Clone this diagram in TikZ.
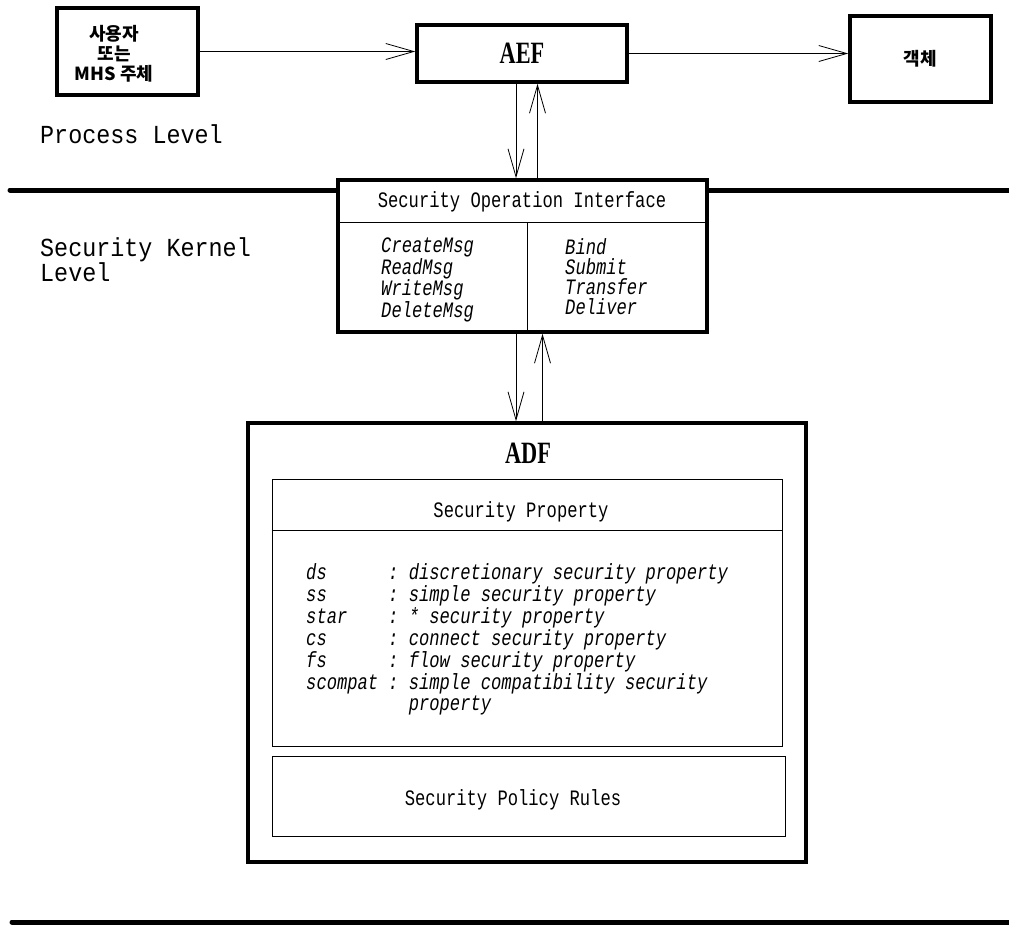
\documentclass[tikz,border=0pt]{standalone}
\usepackage{fontspec}
\setmainfont{Liberation Serif}
\newfontfamily\krfont{Noto Sans CJK KR}
\newfontfamily\titlefont[FakeStretch=0.72]{Liberation Serif}
\newfontfamily\levelfont[FakeStretch=0.9]{Liberation Mono}
\newfontfamily\boxfont[FakeStretch=0.78]{Liberation Mono}
\usetikzlibrary{arrows.meta}
\begin{document}
\begin{tikzpicture}[x=1pt,y=-1pt,
  every node/.style={inner sep=0pt},
  thickbox/.style={draw,line width=3.5pt},
  thinbox/.style={draw,line width=0.8pt},
  sepline/.style={line width=5pt,line cap=round},
  conn/.style={line width=0.8pt,-{Straight Barb[length=28pt,width=16pt,line width=0.8pt]}},
  kr/.style={font=\krfont\bfseries\fontsize{18}{20}\selectfont,align=center},
  big/.style={font=\titlefont\bfseries\fontsize{31}{32}\selectfont},
  lvl/.style={font=\levelfont\fontsize{26}{21}\selectfont,align=left},
  plain/.style={font=\boxfont\fontsize{22}{20}\selectfont},
  slant/.style={font=\boxfont\itshape\fontsize{22}{20}\selectfont,align=left}]
\useasboundingbox (0,0) rectangle (1009,938);
% process level
\node[thickbox,minimum width=141pt,minimum height=87pt] (user) at (127.5,51.5) {};
\node[kr] (usertxt) at (114,54) {사용자\\또는\\MHS 주체};
\node[thickbox,minimum width=210pt,minimum height=57pt,big] (aef) at (522,53.5) {AEF};
\node[thickbox,minimum width=141pt,minimum height=86pt,kr] (obj) at (920.5,59) {객체};
\node[lvl,anchor=base west] (plevel) at (40,143) {Process Level};
\draw[conn] (user.east) -- (user.east -| aef.west);
\draw[conn] (aef.east) -- (aef.east -| obj.west);
% security kernel level
\node[thickbox,minimum width=369pt,minimum height=152pt] (soi) at (522.5,256) {};
\draw[sepline] (10,190) -- (soi.west |- 0,190);
\draw[sepline] (soi.east |- 0,190) -- (1009,190);
\node[plain] (soititle) at (522,202) {Security Operation Interface};
\draw[line width=0.8pt] (soi.west |- 0,222) -- (soi.east |- 0,222);
\draw[line width=0.8pt] (527,222) -- (527,330);
\node[slant,anchor=north west] (ops) at (381,238) {CreateMsg\\ReadMsg\\WriteMsg\\DeleteMsg};
\node[slant,anchor=north west] (mts) at (565,238) {Bind\\Submit\\Transfer\\Deliver};
\node[lvl,anchor=north west] (klevel) at (40,237) {Security Kernel\\Level};
\draw[conn] ([xshift=-6pt]aef.south) -- ([xshift=-6pt]aef.south |- soi.north);
\draw[conn] ([xshift=15pt]soi.north) -- ([xshift=15pt]soi.north |- aef.south);
% ADF
\node[thickbox,minimum width=558pt,minimum height=439pt] (adf) at (527,642.5) {};
\node[big] (adftitle) at (528,453) {ADF};
\draw[conn] ([xshift=-6.5pt]soi.south) -- ([xshift=-6.5pt]soi.south |- adf.north);
\draw[conn] ([xshift=15.5pt]adf.north) -- ([xshift=15.5pt]adf.north |- soi.south);
\node[thinbox,minimum width=510pt,minimum height=267pt] (prop) at (527,612.5) {};
\node[plain] (proptitle) at (521,512) {Security Property};
\draw[line width=0.8pt] (prop.west |- 0,530) -- (prop.east |- 0,530);
\node[slant,anchor=north west] (proplist) at (306,563) {%
  \renewcommand{\arraystretch}{1.03}%
  \begin{tabular}{@{}p{82pt}@{}l@{\hspace{10.3pt}}l@{}}
  ds & : & discretionary security property\\
  ss & : & simple security property\\
  star & : & * security property\\
  cs & : & connect security property\\
  fs & : & flow security property\\
  scompat & : & simple compatibility security\\
   & & property
  \end{tabular}};
\node[thinbox,minimum width=513pt,minimum height=80pt] (rules) at (528.5,796) {};
\node[plain] (rulestitle) at (513,800) {Security Policy Rules};
\draw[sepline] (12,922) -- (1009,922);
\end{tikzpicture}
\end{document}
